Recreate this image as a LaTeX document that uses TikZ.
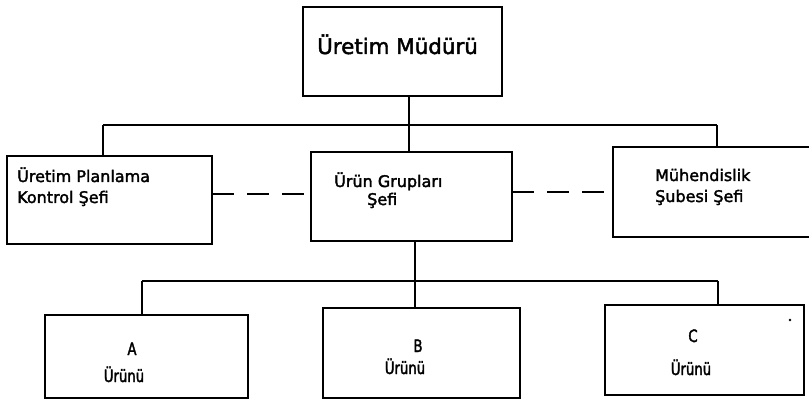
\documentclass[tikz,border=0pt]{standalone}
\usepackage{fontspec}
\setmainfont[FakeBold=2]{DejaVu Sans}
\newfontfamily\narrowfont[FakeStretch=0.78,FakeBold=2]{DejaVu Sans}
\begin{document}
\begin{tikzpicture}[x=1pt,y=-1pt,
  box/.style={draw, line width=1.8pt, inner sep=0pt, outer sep=0pt, anchor=north west},
  conn/.style={line width=1.8pt},
  dashline/.style={line width=1.8pt, dash pattern=on 22pt off 13pt},
  lbl/.style={inner sep=0pt, anchor=base west, font=\fontsize{16}{18}\selectfont},
  lblc/.style={inner sep=0pt, anchor=base, font=\narrowfont\fontsize{17}{19}\selectfont}]
\useasboundingbox (0,0) rectangle (809,406);
\clip (0,0) rectangle (809,406);
% boxes
\node[box, minimum width=199pt, minimum height=89pt] (top) at (303,7) {};
\node[box, minimum width=205pt, minimum height=88pt] (plan) at (7,156) {};
\node[box, minimum width=201pt, minimum height=89pt] (grp) at (311,152) {};
\node[box, minimum width=200pt, minimum height=90pt] (muh) at (613,147) {};
\node[box, minimum width=203pt, minimum height=83pt] (pa) at (45,315) {};
\node[box, minimum width=197pt, minimum height=90pt] (pb) at (323,308) {};
\node[box, minimum width=199pt, minimum height=90pt] (pc) at (605,305) {};
% texts
\node[lbl, font=\fontsize{21.4}{24}\selectfont] (ttop) at (317,54) {Üretim Müdürü};
\node[lbl] (tplan1) at (17,182) {Üretim Planlama};
\node[lbl] (tplan2) at (17,203) {Kontrol Şefi};
\node[lbl] (tgrp1) at (334,187) {Ürün Grupları};
\node[lbl] (tgrp2) at (367,205) {Şefi};
\node[lbl] (tmuh1) at (655,181) {Mühendislik};
\node[lbl] (tmuh2) at (655,202) {Şubesi Şefi};
\node[lblc] (ta1) at (132,355) {A};
\node[lblc] (ta2) at (124,382) {Ürünü};
\node[lblc] (tb1) at (418,352) {B};
\node[lblc] (tb2) at (405,374) {Ürünü};
\node[lblc] (tc1) at (693,342) {C};
\node[lblc] (tc2) at (691,375) {Ürünü};
\node[circle, fill, inner sep=1pt] (speck) at (790,320) {};
% first level connectors
\coordinate (j0) at (409,125);
\coordinate (b1L) at (103,125);
\coordinate (b1R) at (717,125);
\draw[conn] (j0 |- top.south) -- (j0);
\draw[conn] (b1L) -- (b1R);
\draw[conn] (b1L) -- (b1L |- plan.north);
\draw[conn] (j0) -- (j0 |- grp.north);
\draw[conn] (b1R) -- (b1R |- muh.north);
% dashed links
\coordinate (d1) at (0,194);
\coordinate (d2) at (0,192);
\draw[dashline] (plan.east |- d1) -- (grp.west |- d1);
\draw[dashline] (grp.east |- d2) -- (muh.west |- d2);
% second level connectors
\coordinate (j1) at (415,281);
\coordinate (b2L) at (142,281);
\coordinate (b2R) at (718,281);
\draw[conn] (j1 |- grp.south) -- (j1);
\draw[conn] (b2L) -- (b2R);
\draw[conn] (b2L) -- (b2L |- pa.north);
\draw[conn] (j1) -- (j1 |- pb.north);
\draw[conn] (b2R) -- (b2R |- pc.north);
\end{tikzpicture}
\end{document}
